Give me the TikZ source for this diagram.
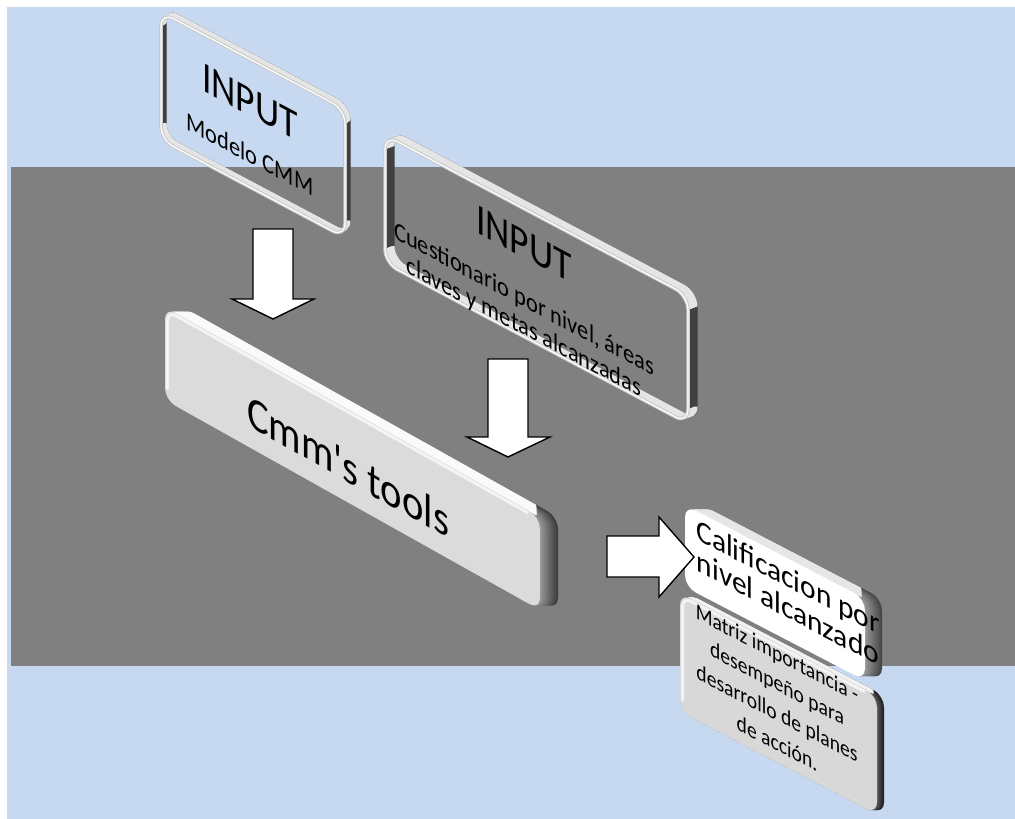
\documentclass[tikz,border=0pt]{standalone}
\usepackage{fontspec}
\setmainfont{Carlito}

\definecolor{sky}{RGB}{198,217,240}
\definecolor{band}{RGB}{128,128,128}
% colour sets of the solid slabs: F/B side near/far, T top, C face
\definecolor{toolsF}{RGB}{150,150,150}
\definecolor{toolsB}{RGB}{60,60,60}
\definecolor{toolsT}{RGB}{250,250,250}
\definecolor{toolsC}{RGB}{219,219,219}
\definecolor{califF}{RGB}{150,150,150}
\definecolor{califB}{RGB}{70,70,70}
\definecolor{califT}{RGB}{230,230,230}
\definecolor{califC}{RGB}{255,255,255}
\definecolor{matrizF}{RGB}{90,90,90}
\definecolor{matrizB}{RGB}{30,30,30}
\definecolor{matrizT}{RGB}{242,242,242}
\definecolor{matrizC}{RGB}{216,216,216}

\tikzset{
  facetext/.style 2 args={yslant=-#1, xscale=#2, inner sep=0pt, text=black, align=center},
  blockarrow/.style={draw=black, line width=1.4pt, fill=white, line join=miter},
  rimside/.style={draw=black!75, line width=3pt, rounded corners=14pt},
  rimlit/.style={draw=white!90!black, line width=3pt, rounded corners=14pt},
  rimfront/.style={draw=black!20, line width=3.5pt, rounded corners=14pt},
  rimshine/.style={draw=white, line width=1.2pt, rounded corners=14pt},
}

% solid slanted slab: centre x, centre y, half width, half height, slope,
% depth x, depth y, colour set
\newcommand\slabbox[8]{%
  \begin{scope}[shift={(#1,#2)},yslant=-#5]
    \pgfmathsetmacro\depthy{(#7)-(#5)*(#6)}
    \foreach \t in {16,...,1}{%
      \pgfmathtruncatemacro\mix{100*(\t-1)/15}
      \pgfmathsetmacro\offx{\t*(#6)/16}
      \pgfmathsetmacro\offy{\t*\depthy/16}
      \fill[#8B!\mix!#8F, rounded corners=12pt, shift={(\offx,\offy)}]
        (-#3,-#4) rectangle (#3,#4);
    }
    \begin{scope}
      \clip (-#3-40,-#4) rectangle (#3-4,-#4-60);
      \foreach \t in {16,...,1}{%
        \pgfmathsetmacro\offx{\t*(#6)/16}
        \pgfmathsetmacro\offy{\t*\depthy/16}
        \fill[#8T, rounded corners=12pt, shift={(\offx,\offy)}]
          (-#3,-#4) rectangle (#3,#4);
      }
    \end{scope}
    \fill[#8C, rounded corners=12pt] (-#3,-#4) rectangle (#3,#4);
    \draw[white, line width=3pt, opacity=0.7, rounded corners=10pt]
      (-#3+2.5,#4-12) -- (-#3+2.5,-#4+2.5) -- (#3-12,-#4+2.5);
  \end{scope}}

% hollow slanted frame: centre x, centre y, half width, half height, slope,
% depth x, depth y
\newcommand\rimbox[7]{%
  \begin{scope}[shift={(#1,#2)},yslant=-#5]
    \pgfmathsetmacro\depthy{(#7)-(#5)*(#6)}
    \foreach \t in {10,...,1}{%
      \pgfmathsetmacro\offx{\t*(#6)/10}
      \pgfmathsetmacro\offy{\t*\depthy/10}
      \draw[rimside, shift={(\offx,\offy)}] (-#3,-#4) rectangle (#3,#4);
    }
    \foreach \t in {10,...,1}{%
      \pgfmathsetmacro\offx{\t*(#6)/10}
      \pgfmathsetmacro\offy{\t*\depthy/10}
      \draw[rimlit, shift={(\offx,\offy)}]
        (-#3,-#4+14) -- (-#3,-#4) -- (#3,-#4) -- (#3,-#4+14)
        (-#3,#4-14) -- (-#3,#4) -- (#3,#4) -- (#3,#4-14);
    }
    \draw[rimfront] (-#3,-#4) rectangle (#3,#4);
    \draw[rimshine] (-#3,-#4) rectangle (#3,#4);
  \end{scope}}

\begin{document}
\begin{tikzpicture}[x=1pt,y=-1pt]
  \useasboundingbox (0,0) rectangle (1015,819);
  % backdrop
  \fill[white] (0,0) rectangle (1015,819);
  \fill[sky] (7,7) rectangle (1015,819);
  \fill[band] (11,167) rectangle (1015,666);

  % first input frame
  \rimbox{253}{124.8}{92}{64}{0.53}{4}{-3}
  \node[facetext={0.53}{0.864}, font=\fontsize{43.5}{50}\selectfont] (inAhead) at (250,102) {INPUT};
  \node[facetext={0.53}{0.864}, font=\fontsize{26}{30}\selectfont] (inAbody) at (250,154) {Modelo CMM};

  % second input frame
  \rimbox{536.5}{279.3}{151.5}{64}{0.53}{8}{-3}
  \node[facetext={0.53}{0.864}, font=\fontsize{43.5}{50}\selectfont] (inBhead) at (524,244) {INPUT};
  \node[facetext={0.53}{0.864}, font=\fontsize{26}{28}\selectfont] (inBbody) at (524,314)
    {Cuestionario por nivel, áreas\\claves y metas alcanzadas};

  % downward block arrows
  \draw[blockarrow] (253,229) -- (293,229) -- (293,299) -- (314,299) -- (273,319)
    -- (232,299) -- (253,299) -- cycle;
  \draw[blockarrow] (488,359) -- (528,359) -- (528,437) -- (550,437) -- (508,457)
    -- (467,437) -- (488,437) -- cycle;

  % tool slab
  \slabbox{352.5}{458.5}{187.5}{46.5}{0.56}{18}{0}{tools}
  \node[facetext={0.56}{0.864}, font=\fontsize{47}{56}\selectfont] (toolsText) at (348,466)
    {Cmm\textquotesingle s tools};

  % result slabs
  \slabbox{778.5}{703.7}{98.5}{59.5}{0.52}{7}{0}{matriz}
  \node[facetext={0.52}{0.864}, font=\fontsize{22.7}{30}\selectfont] (matrizText) at (777,698)
    {Matriz importancia -\\desempeño para\\desarrollo de planes\\de acción.};

  \slabbox{775}{592.8}{90}{41}{0.52}{17}{0}{calif}
  \node[facetext={0.52}{0.95}, font=\fontsize{31}{31}\selectfont] (califText) at (788,592)
    {Calificacion por\\nivel alcanzado};

  % right block arrow
  \draw[blockarrow] (607,536) -- (659,536) -- (659,517) -- (694,557) -- (659,597)
    -- (659,577) -- (607,577) -- cycle;
\end{tikzpicture}
\end{document}
